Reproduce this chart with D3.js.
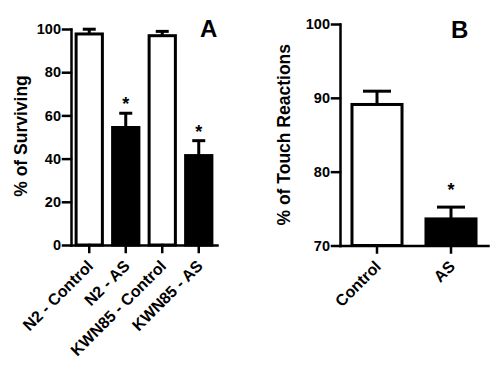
<!DOCTYPE html>
<html><head><meta charset="utf-8">
<script src="https://cdn.jsdelivr.net/npm/d3@7"></script>
<style>body{margin:0;background:#fff}svg{display:block}</style>
</head><body><svg id="c" width="500" height="369"></svg>
<script>
// ---- data ----
const categoriesA = ["N2 - Control", "N2 - AS", "KWN85 - Control", "KWN85 - AS"];
const meansA = [97.7, 54.4, 96.9, 41.4];
const errorsA = [2.2, 6.6, 2.0, 6.9];
const fillsA = ["white", "black", "white", "black"];
const starsA = ["", "*", "", "*"];
const ticksA = [0, 20, 40, 60, 80, 100];
const titleA = "% of Surviving";
const labelA = "A";

const categoriesB = ["Control", "AS"];
const meansB = [89.1, 73.6];
const errorsB = [1.8, 1.6];
const fillsB = ["white", "black"];
const starsB = ["", "*"];
const ticksB = [70, 80, 90, 100];
const titleB = "% of Touch Reactions";
const labelB = "B";

// ---- drawing ----
const FONT = "'Liberation Sans', Arial, Helvetica, sans-serif";
const svg = d3.select("#c");
svg.append("rect").attr("width", 500).attr("height", 369).attr("fill", "white");

function panel(o) {
  const g = svg.append("g");
  const x = d3.scaleBand().domain(o.cats).range([o.x0, o.x1])
    .paddingInner(o.pad).paddingOuter(o.pad / 2);
  const y = d3.scaleLinear().domain([o.ticks[0], o.ticks[o.ticks.length - 1]]).range([o.yb, o.yt]);
  const base = o.ticks[0];

  // error bars (upper only)
  const eg = g.append("g").attr("stroke", "#000").attr("stroke-width", 3);
  o.cats.forEach((c, i) => {
    const cx = x(c) + x.bandwidth() / 2;
    eg.append("line").attr("x1", cx).attr("x2", cx)
      .attr("y1", y(o.means[i])).attr("y2", y(o.means[i] + o.errs[i]));
    eg.append("line").attr("x1", cx - o.cap / 2).attr("x2", cx + o.cap / 2)
      .attr("y1", y(o.means[i] + o.errs[i])).attr("y2", y(o.means[i] + o.errs[i]));
  });

  // bars
  g.append("g").selectAll("rect").data(o.cats).join("rect")
    .attr("x", c => x(c)).attr("width", x.bandwidth())
    .attr("y", (c, i) => y(o.means[i]))
    .attr("height", (c, i) => y(base) - y(o.means[i]))
    .attr("fill", (c, i) => o.fills[i])
    .attr("stroke", "#000").attr("stroke-width", 3);

  // stars
  g.append("g").selectAll("text").data(o.cats).join("text")
    .attr("x", c => x(c) + x.bandwidth() / 2)
    .attr("y", (c, i) => y(o.means[i] + o.errs[i]) - o.starGap)
    .attr("text-anchor", "middle")
    .attr("font-family", FONT).attr("font-size", 18).attr("font-weight", "bold")
    .text((c, i) => o.stars[i]);

  // y axis
  const ya = g.append("g").attr("transform", `translate(${o.x0},0)`)
    .call(d3.axisLeft(y).tickValues(o.ticks).tickSize(8).tickSizeOuter(0).tickPadding(2));
  ya.selectAll("path,line").attr("stroke", "#000").attr("stroke-width", 2.5).attr("stroke-linecap", "square");
  ya.selectAll("text").attr("font-family", FONT).attr("font-size", 14.5)
    .attr("font-weight", "bold").attr("fill", "#000");

  // x axis
  const xa = g.append("g").attr("transform", `translate(0,${o.yb})`)
    .call(d3.axisBottom(x).tickSize(7).tickSizeOuter(0).tickFormat(""));
  xa.selectAll("path,line").attr("stroke", "#000").attr("stroke-width", 2.5).attr("stroke-linecap", "square");

  // rotated category labels
  g.append("g").selectAll("text").data(o.cats).join("text")
    .attr("transform", c => `translate(${x(c) + x.bandwidth() / 2 + 5},${o.yb + 22}) rotate(-45)`)
    .attr("text-anchor", "end")
    .attr("font-family", FONT).attr("font-size", 16).attr("font-weight", "bold")
    .text(c => c);

  // y title
  g.append("text")
    .attr("transform", `translate(${o.titleX},${(o.yb + o.yt) / 2 + o.titleDy}) rotate(-90)`)
    .attr("text-anchor", "middle")
    .attr("font-family", FONT).attr("font-size", 17.5).attr("font-weight", "bold")
    .text(o.title);

  // panel letter
  g.append("text").attr("x", o.lx).attr("y", o.ly)
    .attr("font-family", FONT).attr("font-size", 24).attr("font-weight", "bold")
    .text(o.label);
}

panel({cats: categoriesA, means: meansA, errs: errorsA, fills: fillsA, stars: starsA,
  ticks: ticksA, title: titleA, label: labelA,
  x0: 71, x1: 217, pad: 0.28, yb: 245, yt: 29, cap: 13, starGap: 3,
  titleX: 26.5, titleDy: -1, lx: 200, ly: 37});

panel({cats: categoriesB, means: meansB, errs: errorsB, fills: fillsB, stars: starsB,
  ticks: ticksB, title: titleB, label: labelB,
  x0: 340, x1: 488, pad: 0.324, yb: 245.5, yt: 24, cap: 28, starGap: 11,
  titleX: 290, titleDy: 0, lx: 451, ly: 38});
</script></body></html>
